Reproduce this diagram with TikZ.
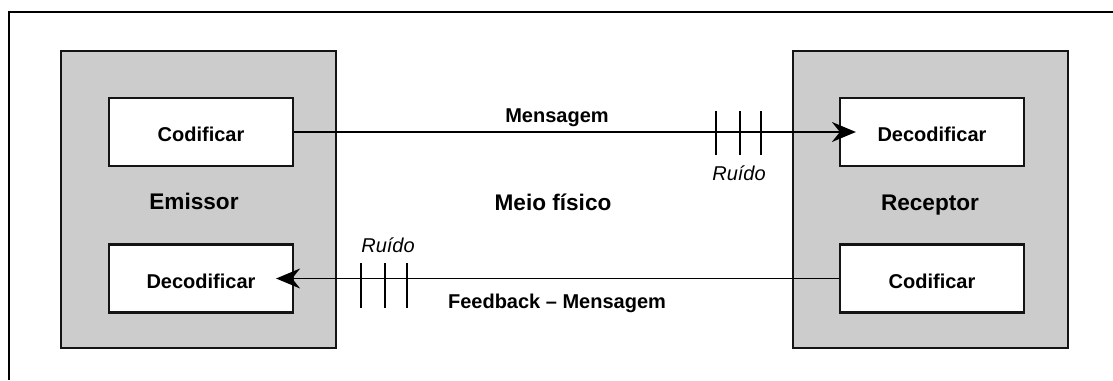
\documentclass[tikz,border=0pt]{standalone}
\usepackage{fontspec}
\setmainfont{Liberation Sans}
\usepackage{xcolor}
\usepackage{tikz}
\usetikzlibrary{arrows.meta,positioning}
\definecolor{clrPanelfill}{RGB}{204,204,204}
\definecolor{clrPaneledge}{RGB}{20,20,20}
\tikzset{
  msgflow/.style={-{Stealth[length=12pt,width=10pt,inset=4pt]}, line width=0.9pt},
  noisetick/.style={line width=1pt},
  panelnode/.style={draw=clrPaneledge, fill=clrPanelfill, line width=1.1pt, minimum width=137.5pt, minimum height=148.5pt, inner sep=0pt},
  codecnode/.style={draw=clrPaneledge, fill=white, line width=1.1pt, minimum width=92pt, minimum height=34pt, inner sep=0pt, font=\bfseries, text height=10pt},
  boldlabel/.style={font=\bfseries, anchor=base, inner sep=0pt},
  panellabel/.style={font=\fontsize{11.3pt}{13pt}\selectfont\bfseries, anchor=base, inner sep=0pt},
  noiselabel/.style={font=\itshape, anchor=base, inner sep=0pt}
}
\begin{document}
\begin{tikzpicture}[x=0.5pt, y=-0.5pt, font=\fontsize{10pt}{12pt}\selectfont]
\useasboundingbox (0,0) rectangle (1113,380);
\draw[line width=1.1pt] (9,380) -- (9,12) -- (1113,12);

\node[panelnode] (emissor) at (198.5,199.5) {};
\node[panelnode] (receptor) at (930.5,199.5) {};

\node[codecnode] (codE) at (201,132) {Codificar};
\node[codecnode] (decE) at (201,278.5) {Decodificar};
\node[codecnode] (decR) at (932,132) {Decodificar};
\node[codecnode] (codR) at (932,278.5) {Codificar};

\node[panellabel] (emissorlbl) at (194,209) {Emissor};
\node[panellabel] (receptorlbl) at (930,210) {Receptor};
\node[panellabel] (meiolbl) at (553,210) {Meio físico};
\node[boldlabel] (msglbl) at (557,122) {Mensagem};
\node[boldlabel] (fbklbl) at (557,308) {Feedback -- Mensagem};
\node[noiselabel] (ruidoR) at (739,180) {Ruído};
\node[noiselabel] (ruidoE) at (388,252) {Ruído};

\draw[msgflow, shorten >=-8.5pt] (codE) -- (decR);
\draw[msgflow, shorten >=-9pt] (codR) -- (decE);

\foreach \tx in {716,740,761}
  \draw[noisetick] (\tx,111) -- (\tx,155);
\foreach \tx in {361,385,407}
  \draw[noisetick] (\tx,263) -- (\tx,308);

\end{tikzpicture}
\end{document}
